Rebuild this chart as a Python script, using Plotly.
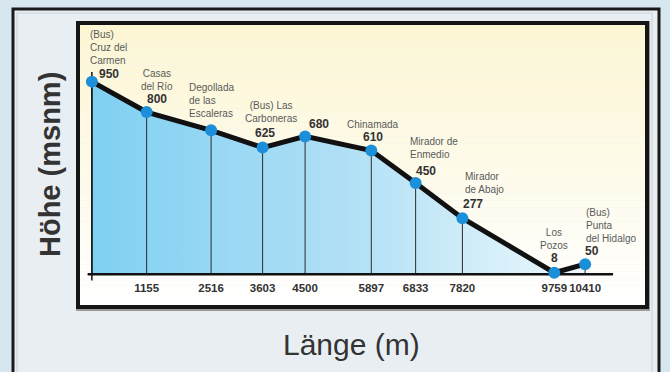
import plotly.graph_objects as go

# ---------------- data ----------------
distance_m = [0, 1155, 2516, 3603, 4500, 5897, 6833, 7820, 9759, 10410]
elevation_m = [950, 800, 710, 625, 680, 610, 450, 277, 8, 50]
place_names = [
    "(Bus)\nCruz del\nCarmen",
    "Casas\ndel Río",
    "Degollada\nde las\nEscaleras",
    "(Bus) Las\nCarboneras",
    "",
    "Chinamada",
    "Mirador de\nEnmedio",
    "Mirador\nde Abajo",
    "Los\nPozos",
    "(Bus)\nPunta\ndel Hidalgo",
]
show_elevation = [True, True, False, True, True, True, True, True, True, True]
tick_values = distance_m[1:]
tick_labels = [str(v) for v in tick_values]

x_title = "Länge (m)"
y_title = "Höhe (msnm)"

# ---------------- label placement (pixel offsets, style only) ----------------
num_dx = [17, 10, 0, 2, 14, 1.5, 10.7, 10.5, 0, 6.4]
num_dy = [7.7, 12.6, 0, 15, 12, 13.3, 11.6, 14.3, 14.7, 13.7]
name_anchor = ["left", "center", "left", "center", "center", "center", "left", "left", "center", "left"]
name_dx = [-4, 10, -23.7, 8, 0, 1.5, -7.8, 0.5, 0, -0.8]
name_dy = [34, 32.3, 30, 35.5, 0, 26.6, 35.3, 35, 33.8, 39]

# ---------------- geometry ----------------
W, H = 670, 372
L, R, T, B = 78, 647, 23, 307


def px(xp):
    return (xp - L) / (R - L)


def py(yp):
    return (B - yp) / (B - T)


X_RANGE = [-293, 11716]
Y_RANGE = [-161, 1239]

SANS = "Liberation Sans, Arial, sans-serif"
PAPER = "#d7e7f0"

fig = go.Figure()

# filled profile with drop lines (error bars down to zero)
fig.add_trace(go.Scatter(
    x=distance_m, y=elevation_m, mode="lines",
    line=dict(color="#111111", width=5),
    fill="tozeroy",
    fillgradient=dict(type="horizontal",
                      colorscale=[[0, "#7fd0f2"], [0.5, "#afdff5"], [1, "#edf8fd"]]),
    error_y=dict(type="data", symmetric=False, array=[0] * len(elevation_m),
                 arrayminus=elevation_m, color="#2b2b2b", thickness=1, width=0),
    hoverinfo="skip", showlegend=False,
))

# axis baseline and left axis line
fig.add_trace(go.Scatter(
    x=[distance_m[0] - 90, distance_m[-1] + 590], y=[0, 0], mode="lines",
    line=dict(color="#111111", width=2.5), hoverinfo="skip", showlegend=False,
))
fig.add_trace(go.Scatter(
    x=[distance_m[0], distance_m[0]], y=[-30, max(elevation_m) + 48], mode="lines",
    line=dict(color="#111111", width=1.5), hoverinfo="skip", showlegend=False,
))

# points
fig.add_trace(go.Scatter(
    x=distance_m, y=elevation_m, mode="markers",
    marker=dict(color="#1b8fd9", size=12, line=dict(width=0)),
    hoverinfo="skip", showlegend=False,
))

annotations = []
for i, (xv, yv) in enumerate(zip(distance_m, elevation_m)):
    if show_elevation[i]:
        annotations.append(dict(
            x=xv, y=yv, xref="x", yref="y", text=str(yv), showarrow=False,
            xanchor="center", yanchor="middle", xshift=num_dx[i], yshift=num_dy[i],
            font=dict(family=SANS, size=12, color="#333333", weight="bold"),
        ))
    if place_names[i]:
        annotations.append(dict(
            x=xv, y=yv, xref="x", yref="y", text=place_names[i].replace("\n", "<br>"),
            showarrow=False, xanchor=name_anchor[i], yanchor="middle",
            align=name_anchor[i], xshift=name_dx[i], yshift=name_dy[i],
            font=dict(family=SANS, size=10, color="#5a5a5a"),
        ))

annotations.append(dict(
    x=px(50), y=py(165), xref="paper", yref="paper", text=y_title, showarrow=False,
    textangle=-90, xanchor="center", yanchor="middle",
    font=dict(family=SANS, size=29, color="#333333", weight="bold"),
))
annotations.append(dict(
    x=px(351), y=py(344), xref="paper", yref="paper", text=x_title, showarrow=False,
    xanchor="center", yanchor="middle",
    font=dict(family=SANS, size=30, color="#333333"),
))

shapes = []
# outer frame
shapes.append(dict(type="rect", xref="paper", yref="paper",
                   x0=px(13), x1=px(659), y0=py(430), y1=py(9),
                   fillcolor="#e9eef2", line=dict(color="#1a1a1a", width=3), layer="below"))
# thin inner line of the outer frame
shapes.append(dict(type="rect", xref="paper", yref="paper",
                   x0=px(17), x1=px(652), y0=py(430), y1=py(13),
                   fillcolor="rgba(0,0,0,0)", line=dict(color="#c9d0d5", width=1), layer="below"))
# panel shadow
shapes.append(dict(type="rect", xref="paper", yref="paper",
                   x0=px(77), x1=px(649), y0=py(310), y1=py(22),
                   fillcolor="rgba(0,0,0,0)", line=dict(color="#9a9a9a", width=2), layer="below"))
# panel background gradient (yellow -> white)
n_bands = 40
top_rgb = (252, 246, 211)
bot_rgb = (255, 255, 255)
for k in range(n_bands):
    f = k / (n_bands - 1)
    c = tuple(round(top_rgb[j] + (bot_rgb[j] - top_rgb[j]) * f) for j in range(3))
    shapes.append(dict(type="rect", xref="paper", yref="paper",
                       x0=0, x1=1, y0=1 - (k + 1) / n_bands, y1=1 - k / n_bands,
                       fillcolor="rgb(%d,%d,%d)" % c, line=dict(width=0), layer="below"))
# panel border
shapes.append(dict(type="rect", xref="paper", yref="paper", x0=0, x1=1, y0=0, y1=1,
                   fillcolor="rgba(0,0,0,0)", line=dict(color="#151515", width=4), layer="below"))

fig.update_layout(
    width=W, height=H, autosize=False,
    margin=dict(l=L, r=W - R, t=T, b=H - B, pad=0),
    paper_bgcolor=PAPER, plot_bgcolor="rgba(0,0,0,0)",
    xaxis=dict(range=X_RANGE, showgrid=False, zeroline=False, showline=False,
               tickvals=tick_values, ticktext=tick_labels, ticks="", tickangle=0,
               anchor="free", position=py(276), ticklabelstandoff=3,
               tickfont=dict(family=SANS, size=11.5, color="#333333", weight="bold"),
               fixedrange=True),
    yaxis=dict(range=Y_RANGE, visible=False, fixedrange=True),
    shapes=shapes,
    annotations=annotations,
    showlegend=False,
)

fig.write_html(
    "out.html",
    config={"displayModeBar": False},
    post_script="document.body.style.margin='0';document.body.style.background='%s';" % PAPER,
)
